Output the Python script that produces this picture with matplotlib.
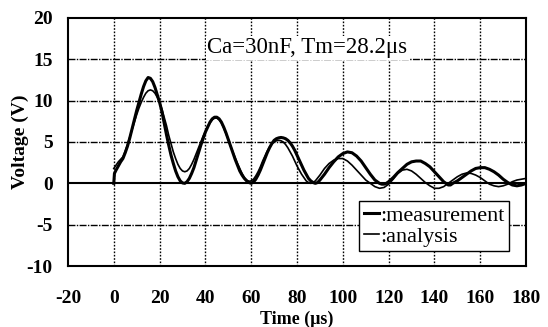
import matplotlib
matplotlib.use("Agg")
import matplotlib.pyplot as plt

# measurement waveform (thick line)
t_meas = [0, 0.3, 1, 2, 3, 4, 5, 6, 7, 8, 9, 10, 11, 12, 13, 14, 15, 16, 17, 18,
          19, 20, 21, 22, 23, 24, 25, 26, 27, 28, 29, 30, 31, 32, 33, 34, 35, 36,
          37, 38, 39, 40, 41, 42, 43, 44, 45, 46, 47, 48, 49, 50, 51, 52, 53, 54,
          55, 56, 57, 58, 59, 60, 61, 62, 63, 64, 65, 66, 67, 68, 69, 70, 71, 72,
          73, 74, 75, 76, 77, 78, 79, 80, 81, 82, 83, 84, 85, 86, 87, 88, 89, 90,
          92, 94, 96, 98, 100, 102, 104, 106, 108, 110, 112, 114, 116, 117, 118,
          119, 120, 122, 124, 126, 128, 130, 132, 134, 136, 138, 140, 142, 144,
          146, 147, 148, 150, 152, 154, 156, 158, 160, 162, 164, 166, 168, 170,
          172, 174, 176, 178, 180]
v_meas = [0, 1.2, 1.6, 2.1, 2.6, 3.0, 3.7, 4.5, 5.5, 6.6, 7.7, 8.8, 9.8, 10.8,
          11.7, 12.4, 12.8, 12.7, 12.3, 11.6, 10.7, 9.8, 8.7, 7.3, 5.9, 4.6, 3.4,
          2.4, 1.5, 0.8, 0.3, 0.05, 0, 0.2, 0.6, 1.2, 1.9, 2.8, 3.7, 4.6, 5.4, 6.2,
          6.8, 7.4, 7.8, 8.0, 8.0, 7.8, 7.4, 6.8, 6.1, 5.3, 4.5, 3.7, 2.9, 2.2, 1.5,
          1.0, 0.6, 0.3, 0.1, 0, 0.15, 0.5, 1.0, 1.6, 2.3, 3.0, 3.7, 4.3, 4.8, 5.2,
          5.4, 5.5, 5.55, 5.5, 5.4, 5.2, 4.9, 4.5, 4.0, 3.4, 2.8, 2.2, 1.6, 1.1,
          0.6, 0.3, 0.1, 0, 0.1, 0.4, 1.1, 1.9, 2.6, 3.2, 3.6, 3.8, 3.7, 3.3, 2.7,
          1.9, 1.1, 0.4, 0.0, -0.1, -0.1, 0.0, 0.2, 0.7, 1.3, 1.8, 2.3, 2.6, 2.7,
          2.7, 2.4, 2.0, 1.4, 0.8, 0.2, -0.2, -0.2, 0.0, 0.3, 0.7, 1.1, 1.5, 1.8,
          1.9, 1.9, 1.7, 1.4, 1.0, 0.5, 0.1, -0.2, -0.3, -0.2, 0.0]

# analysis waveform (thin line)
t_anal = [0, 1, 2, 3, 4, 5, 6, 7, 8, 9, 10, 11, 12, 13, 14, 15, 16, 17, 18, 19,
          20, 21, 22, 23, 24, 25, 26, 27, 28, 29, 30, 31, 32, 33, 34, 35, 36, 37,
          38, 39, 40, 41, 42, 43, 44, 45, 46, 47, 48, 49, 50, 51, 52, 53, 54, 55,
          56, 57, 58, 59, 60, 61, 62, 63, 64, 65, 66, 67, 68, 69, 70, 71, 72, 73,
          74, 75, 76, 77, 78, 79, 80, 81, 82, 83, 84, 85, 86, 87, 88, 90, 92, 94,
          96, 98, 100, 102, 104, 106, 108, 110, 112, 114, 116, 118, 120, 122, 124,
          126, 128, 130, 132, 134, 136, 138, 140, 142, 144, 146, 148, 150, 152,
          154, 156, 158, 160, 162, 164, 166, 168, 170, 172, 174, 176, 178, 180]
v_anal = [1.8, 2.2, 2.6, 2.9, 3.2, 3.9, 4.7, 5.6, 6.5, 7.4, 8.3, 9.1, 9.8, 10.4,
          10.9, 11.2, 11.3, 11.2, 10.9, 10.4, 9.8, 9.0, 8.0, 7.0, 5.8, 4.8, 3.8,
          3.0, 2.3, 1.8, 1.5, 1.4, 1.5, 1.8, 2.3, 2.9, 3.6, 4.3, 5.0, 5.7, 6.3, 6.9,
          7.3, 7.7, 7.9, 7.9, 7.7, 7.3, 6.7, 6.0, 5.3, 4.5, 3.8, 3.1, 2.4, 1.8, 1.2,
          0.7, 0.4, 0.25, 0.3, 0.5, 0.9, 1.4, 2.0, 2.7, 3.3, 3.9, 4.4, 4.8, 5.0,
          5.15, 5.2, 5.15, 5.0, 4.7, 4.3, 3.8, 3.3, 2.7, 2.1, 1.6, 1.1, 0.7, 0.3,
          0.1, 0.0, 0.1, 0.3, 1.0, 1.8, 2.4, 2.8, 3.0, 3.0, 2.7, 2.2, 1.6, 1.0, 0.4,
          0.0, -0.4, -0.6, -0.5, -0.1, 0.5, 1.2, 1.6, 1.7, 1.5, 1.1, 0.6, 0.1, -0.3,
          -0.6, -0.6, -0.4, 0.0, 0.4, 0.8, 1.1, 1.25, 1.2, 1.0, 0.7, 0.3, -0.1,
          -0.3, -0.4, -0.3, -0.1, 0.2, 0.4, 0.5, 0.6]

x_ticks = [-20, 0, 20, 40, 60, 80, 100, 120, 140, 160, 180]
y_ticks = [-10, -5, 0, 5, 10, 15, 20]
note = "Ca=30nF, Tm=28.2\u03bcs"

plt.rcParams['font.family'] = ['Liberation Serif', 'DejaVu Serif']
plt.rcParams['axes.unicode_minus'] = False

fig = plt.figure(figsize=(5.48, 3.27), dpi=100)
ax = fig.add_axes([0.124, 0.1865, 0.836, 0.7585])

# grid: dotted verticals, dash-dot horizontals, solid zero line
for x in x_ticks[1:-1]:
    ax.axvline(x, color='black', lw=1.0, ls=(0, (1.2, 1.2)), zorder=1)
for y in y_ticks[1:-1]:
    if y == 0:
        ax.axhline(y, color='black', lw=1.5, zorder=2)
    else:
        ax.axhline(y, color='black', lw=1.0, ls=(0, (5, 1, 1, 1)), zorder=1)

ax.plot(t_meas, v_meas, color='black', lw=2.2, label=':measurement', zorder=4)
ax.plot(t_anal, v_anal, color='black', lw=1.2, label=':analysis', zorder=4)

ax.set_xlim(-20, 180)
ax.set_ylim(-10, 20)
ax.set_xticks(x_ticks)
ax.set_yticks(y_ticks)
ax.tick_params(length=0, labelsize=14)
ax.tick_params(axis='x', pad=17)
ax.tick_params(axis='y', pad=11)
for lab in ax.get_xticklabels() + ax.get_yticklabels():
    lab.set_fontweight('bold')
for s in ax.spines.values():
    s.set_linewidth(1.5)

ax.set_xlabel("Time (\u03bcs)", fontsize=13, fontweight='bold', va='baseline')
ax.xaxis.set_label_coords(0.5, -0.232)
ax.set_ylabel("Voltage (V)", fontsize=14, fontweight='bold', va='center')
ax.yaxis.set_label_coords(-0.105, 0.5)

ax.text(84.5, 16.4, note, fontsize=16.5, ha='center', va='center', zorder=5,
        bbox=dict(facecolor='white', edgecolor='none', pad=1))

leg = ax.legend(loc='lower right', bbox_to_anchor=(0.963, 0.06), borderaxespad=0,
                fancybox=False, edgecolor='black', framealpha=1, fontsize=16,
                handlelength=0.7, handletextpad=0.05, borderpad=0.2,
                labelspacing=0.0)
leg.get_frame().set_linewidth(1.0)
leg.set_zorder(6)

fig.savefig("out.png", dpi=100)
